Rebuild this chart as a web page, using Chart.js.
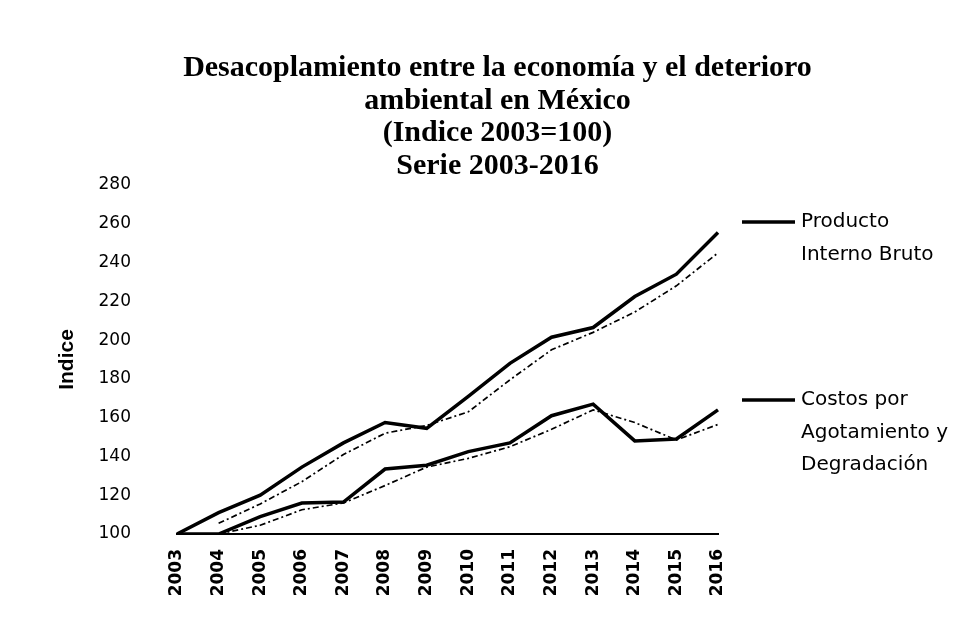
<!DOCTYPE html>
<html>
<head>
<meta charset="utf-8">
<script src="https://cdn.jsdelivr.net/npm/chart.js@4.4.1/dist/chart.umd.min.js"></script>
<style>
  html, body { margin: 0; padding: 0; background: #ffffff; }
  #wrap { width: 975px; height: 617px; position: relative; }
</style>
</head>
<body>
<div id="wrap"><canvas id="c"></canvas></div>
<script>
// ---- data ----
const years = ['2003','2004','2005','2006','2007','2008','2009','2010','2011','2012','2013','2014','2015','2016'];
const pib = [100, 111, 120, 134.5, 147, 157.5, 154.5, 171, 188, 201.5, 206.5, 222.5, 234, 255.5];
const costos = [100, 100, 109, 116, 116.5, 133.5, 135.5, 142.5, 147, 161, 167, 148, 149, 164];
// thin dashed (trend) lines
const pibTrend = [null, 105.5, 115.5, 127, 141, 152, 156, 163, 179.5, 195, 204, 214.5, 228, 245];
const costosTrend = [null, 100, 104.5, 112.5, 116, 125, 134.5, 139, 145, 154, 164, 157.5, 148.5, 156.5];
const titleLines = ['Desacoplamiento entre la economía y el deterioro', 'ambiental en México', '(Indice 2003=100)', 'Serie 2003-2016'];
const yTitle = 'Indice';
const legendPIB = ['Producto', 'Interno Bruto'];
const legendCostos = ['Costos por', 'Agotamiento y', 'Degradación'];
const yMin = 100, yMax = 280, yStep = 20;

const legendPlugin = {
  id: 'sideLegend',
  afterDraw(chart) {
    const ctx = chart.ctx;
    const items = [
      { lines: legendPIB, y: 222 },
      { lines: legendCostos, y: 400 }
    ];
    ctx.save();
    ctx.font = '20px "DejaVu Sans"';
    ctx.fillStyle = '#000';
    ctx.textBaseline = 'middle';
    ctx.textAlign = 'left';
    items.forEach(it => {
      ctx.beginPath();
      ctx.strokeStyle = '#000';
      ctx.lineWidth = 3.5;
      ctx.moveTo(742, it.y);
      ctx.lineTo(795, it.y);
      ctx.stroke();
      it.lines.forEach((t, i) => ctx.fillText(t, 801, it.y + i * 32.5));
    });
    ctx.restore();
  }
};

new Chart(document.getElementById('c'), {
  type: 'line',
  data: {
    labels: years,
    datasets: [
      { label: 'Producto Interno Bruto', data: pib, borderColor: '#000', borderWidth: 3.5, pointRadius: 0, tension: 0 },
      { label: 'Costos por Agotamiento y Degradación', data: costos, borderColor: '#000', borderWidth: 3.5, pointRadius: 0, tension: 0 },
      { label: 'Tendencia PIB', data: pibTrend, borderColor: '#000', borderWidth: 1.7, borderDash: [6, 3, 2, 3], pointRadius: 0, tension: 0 },
      { label: 'Tendencia Costos', data: costosTrend, borderColor: '#000', borderWidth: 1.7, borderDash: [6, 3, 2, 3], pointRadius: 0, tension: 0 }
    ]
  },
  options: {
    responsive: true,
    maintainAspectRatio: false,
    animation: false,
    layout: { padding: { left: 20, right: 0, top: 0, bottom: 0 } },
    plugins: {
      legend: { display: false },
      tooltip: { enabled: false },
      title: {
        display: true,
        text: titleLines,
        color: '#000',
        font: { family: '"Liberation Serif"', size: 30, weight: 'bold', lineHeight: 32.5 / 30 },
        padding: { top: 52, bottom: 3 }
      }
    },
    scales: {
      x: {
        grid: { display: false },
        border: { display: true, color: '#000', width: 2 },
        ticks: {
          color: '#000', autoSkip: false, minRotation: 90, maxRotation: 90, padding: 7,
          font: { family: '"DejaVu Sans"', size: 17, weight: 'bold' }
        },
        afterFit(s) { s.height = 83; }
      },
      y: {
        min: yMin, max: yMax,
        grid: { display: false, drawTicks: false },
        border: { display: false },
        ticks: {
          stepSize: yStep, color: '#000', padding: 46,
          font: { family: '"DejaVu Sans"', size: 17 }
        },
        title: {
          display: true, text: yTitle, color: '#000',
          font: { family: '"Liberation Sans"', size: 21, weight: 'bold' },
          padding: { top: 35, bottom: 0 }
        },
        afterFit(s) { s.width = 157; }
      },
      spacer: {
        type: 'linear', position: 'right', display: true,
        grid: { display: false }, border: { display: false },
        ticks: { display: false },
        afterFit(s) { s.width = 257; }
      }
    }
  },
  plugins: [legendPlugin]
});
</script>
</body>
</html>
